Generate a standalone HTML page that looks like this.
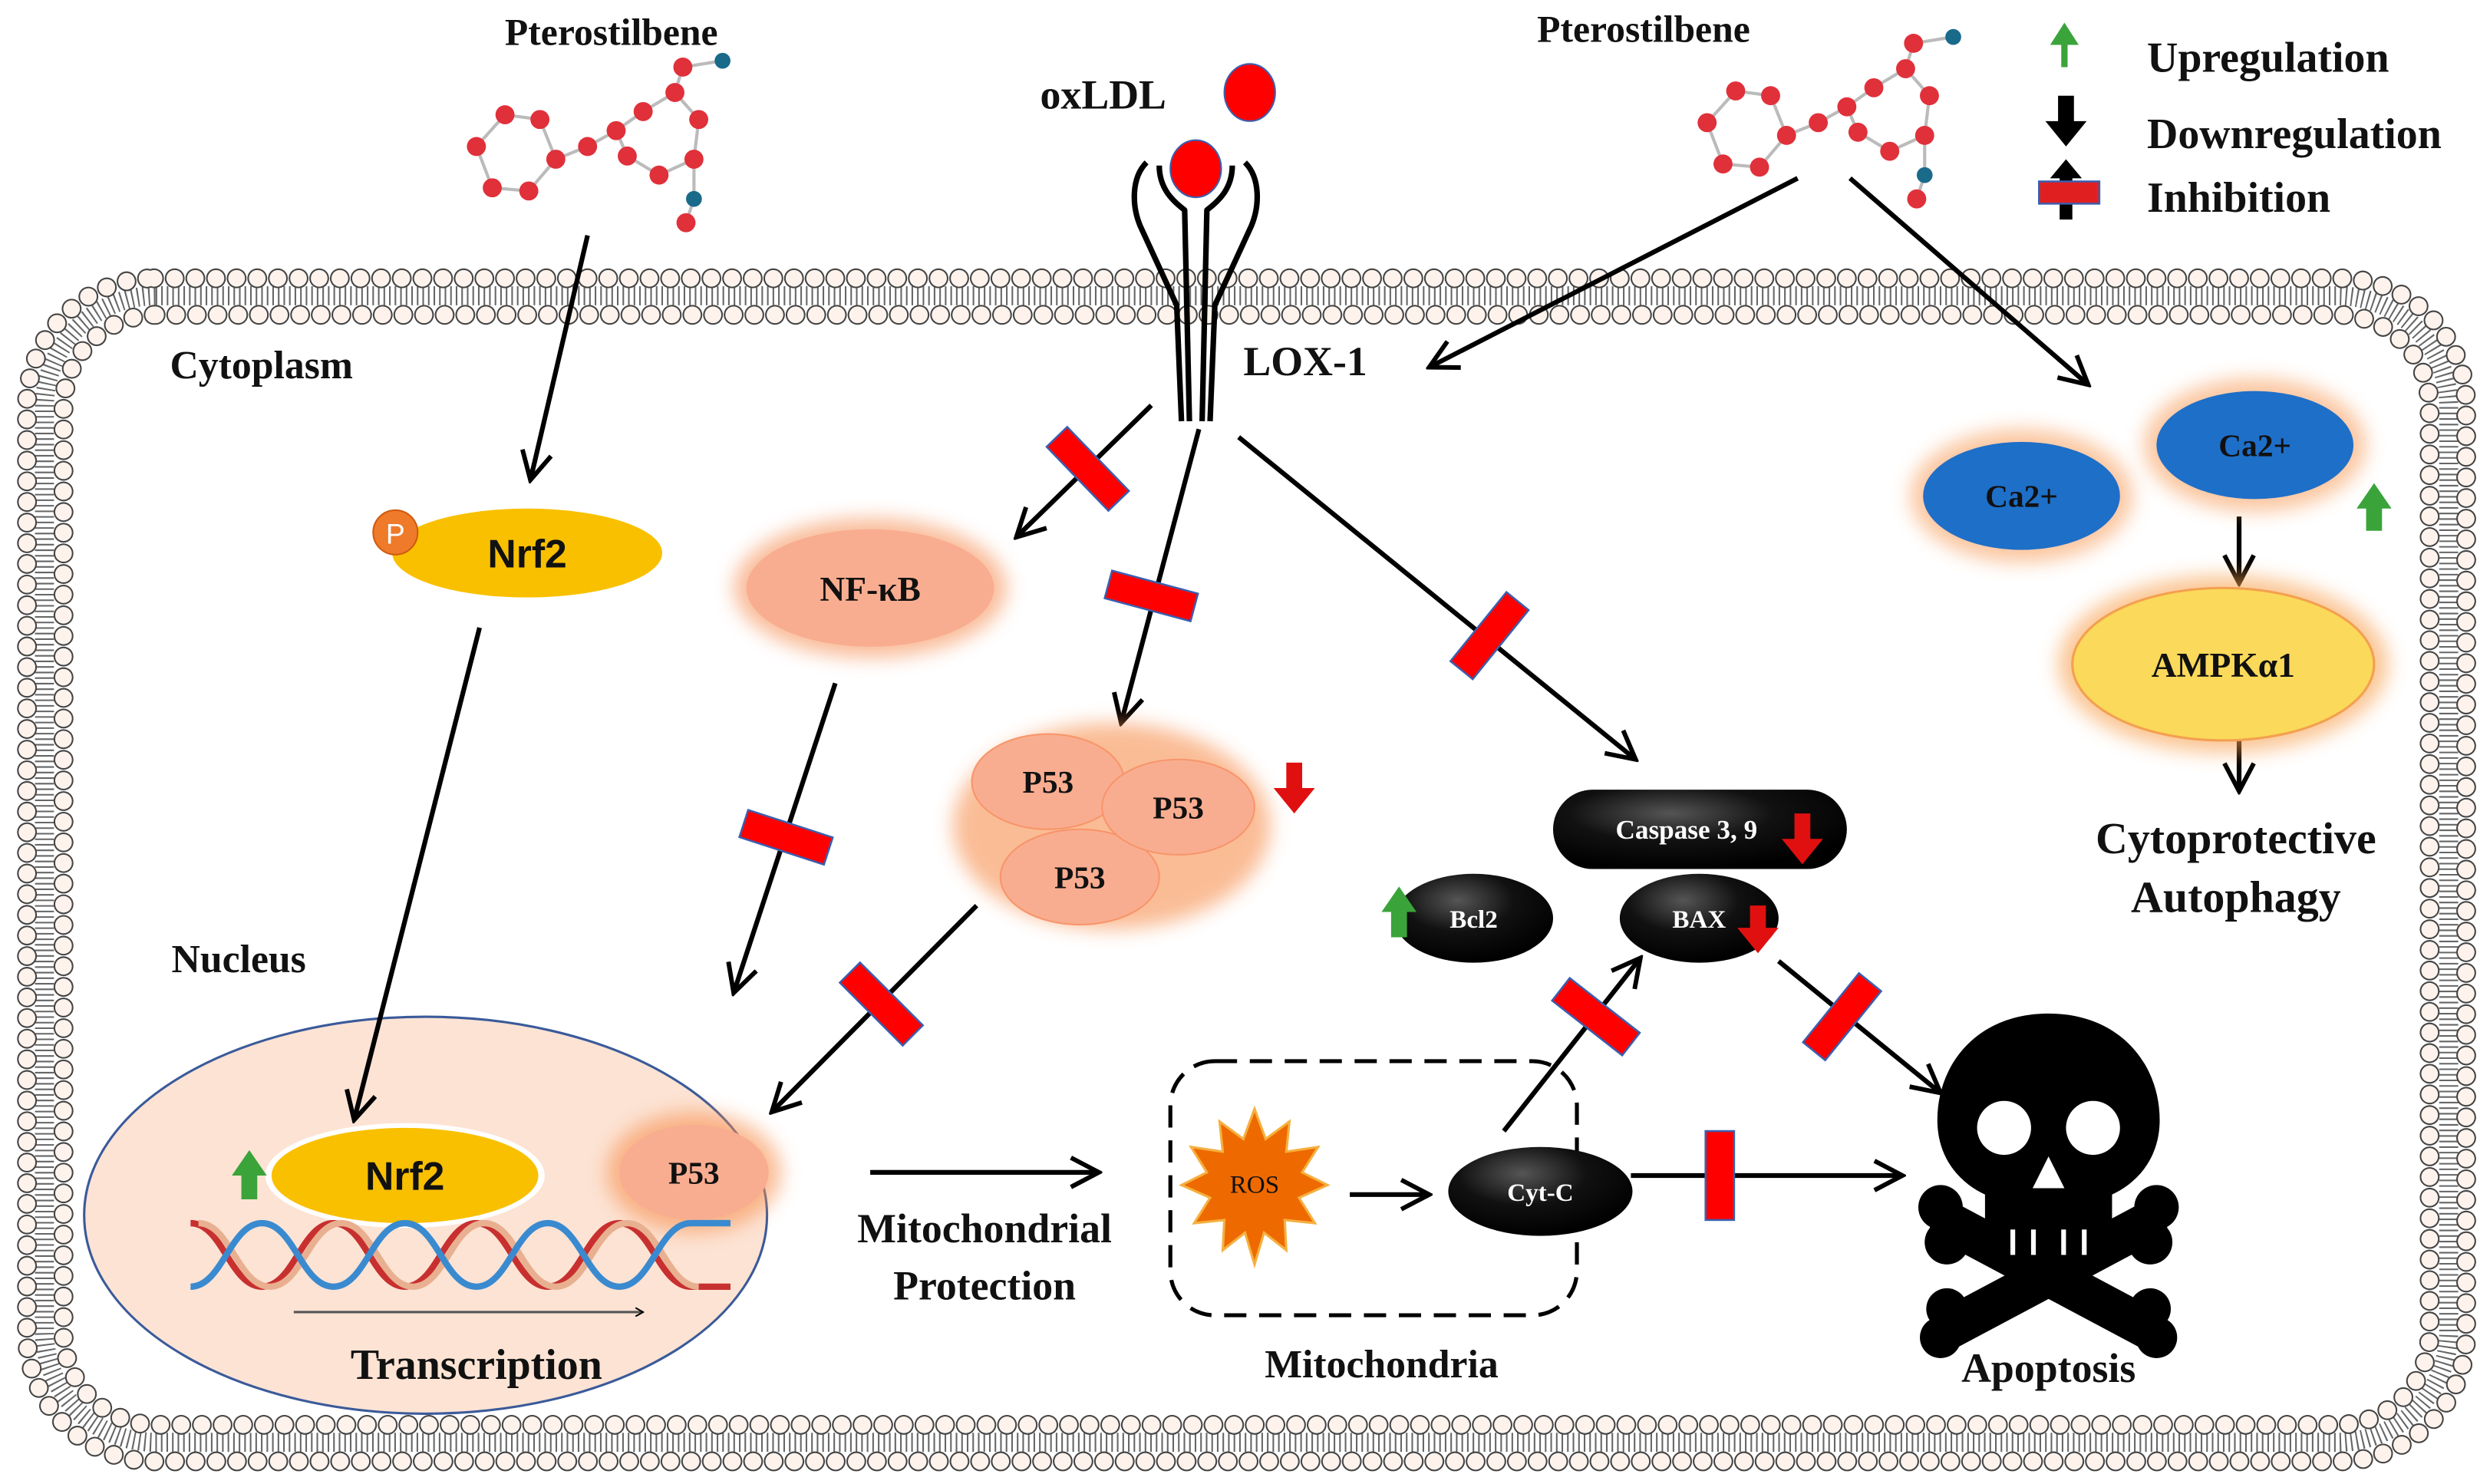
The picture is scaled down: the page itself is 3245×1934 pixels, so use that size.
<!DOCTYPE html>
<html><head><meta charset="utf-8"><style>
html,body{margin:0;padding:0;background:#fff;}
svg{display:block;}
text{font-family:"Liberation Serif",serif;font-weight:bold;fill:#111;}
.sans{font-family:"Liberation Sans",sans-serif;}
</style></head><body>
<svg width="3245" height="1934" viewBox="0 0 1568 934" xmlns="http://www.w3.org/2000/svg">
<defs>
<marker id="ah" viewBox="0 0 10 10" refX="9" refY="5" markerWidth="6" markerHeight="6" orient="auto" markerUnits="userSpaceOnUse">
<path d="M1,0.5 L9,5 L1,9.5" fill="none" stroke="#000" stroke-width="1.6"/>
</marker>
<marker id="ahb" viewBox="0 0 10 10" refX="9" refY="5" markerWidth="22" markerHeight="22" orient="auto" markerUnits="userSpaceOnUse">
<path d="M1,0.8 L9,5 L1,9.2" fill="none" stroke="#000" stroke-width="1.3"/>
</marker>
<filter id="glow" x="-30%" y="-30%" width="160%" height="160%"><feGaussianBlur stdDeviation="6"/></filter>
<radialGradient id="blk" cx="40%" cy="30%" r="70%"><stop offset="0" stop-color="#555"/><stop offset="0.5" stop-color="#111"/><stop offset="1" stop-color="#000"/></radialGradient>
<g id="inh"><rect x="-9" y="-28" width="18" height="56" fill="#f00" stroke="#3a5fb0" stroke-width="1.2"/></g>
<g id="mol">
<g stroke="#bbb" stroke-width="2" fill="none">
<path d="M300,92 L318,72 L340,75 L350,100 L333,120 L310,118 Z M350,100 L370,92 L388,82 L405,70 L425,58 L440,75 L437,100 L415,110 L395,98 L388,82 M425,58 L430,42 L455,38 M437,100 L437,125 L432,140"/>
</g>
<g fill="#e0303a">
<circle cx="300" cy="92" r="6"/><circle cx="318" cy="72" r="6"/><circle cx="340" cy="75" r="6"/><circle cx="350" cy="100" r="6"/><circle cx="333" cy="120" r="6"/><circle cx="310" cy="118" r="6"/>
<circle cx="370" cy="92" r="6"/><circle cx="388" cy="82" r="6"/><circle cx="405" cy="70" r="6"/><circle cx="425" cy="58" r="6"/><circle cx="440" cy="75" r="6"/><circle cx="437" cy="100" r="6"/><circle cx="415" cy="110" r="6"/><circle cx="395" cy="98" r="6"/>
<circle cx="430" cy="42" r="6"/><circle cx="432" cy="140" r="6"/>
</g>
<circle cx="455" cy="38" r="5" fill="#1a6a8a"/><circle cx="437" cy="125" r="5" fill="#1a6a8a"/>
</g>
</defs>

<!-- membrane -->
<g fill="none">
<rect x="28" y="186" width="1514" height="722" rx="70" stroke="#666" stroke-width="12" stroke-dasharray="1 2.5"/>
<rect x="17" y="175" width="1536" height="745" rx="80" stroke="#444" stroke-width="12.5" stroke-dasharray="0 13" stroke-linecap="round"/>
<rect x="17" y="175" width="1536" height="745" rx="80" stroke="#fdf3ec" stroke-width="10.5" stroke-dasharray="0 13" stroke-linecap="round"/>
<rect x="40" y="198" width="1490" height="699" rx="58" stroke="#444" stroke-width="12.5" stroke-dasharray="0 13" stroke-linecap="round"/>
<rect x="40" y="198" width="1490" height="699" rx="58" stroke="#fdf3ec" stroke-width="10.5" stroke-dasharray="0 13" stroke-linecap="round"/>
</g>

<!-- top labels -->
<text x="385" y="28" font-size="24" text-anchor="middle">Pterostilbene</text>
<text x="1035" y="26" font-size="24" text-anchor="middle">Pterostilbene</text>
<use href="#mol"/>
<use href="#mol" transform="translate(775,-15)"/>

<!-- legend -->
<path d="M1298,42 L1298,28 L1291,28 L1300,14 L1309,28 L1302,28 L1302,42 Z" fill="#3aa43a"/>
<path d="M1296,60 L1306,60 L1306,76 L1314,76 L1301,92 L1288,76 L1296,76 Z" fill="#000"/>
<path d="M1297,138 L1297,112 L1291,112 L1301,100 L1311,112 L1305,112 L1305,138 Z" fill="#000"/>
<rect x="1284" y="114" width="38" height="14" fill="#e02020" stroke="#3a5fb0" stroke-width="1.2"/>
<text x="1352" y="45" font-size="27">Upregulation</text>
<text x="1352" y="93" font-size="27">Downregulation</text>
<text x="1352" y="133" font-size="27">Inhibition</text>

<!-- oxLDL & receptor -->
<text x="655" y="68" font-size="26">oxLDL</text>
<ellipse cx="787" cy="58" rx="16" ry="18" fill="#f00" stroke="#3a5fb0" stroke-width="1"/>
<g fill="none" stroke="#000" stroke-width="3.5" stroke-linejoin="round">
<path d="M722,102 C712,112 713,130 718,142 L741,192 L744,265 M730,104 C730,118 738,126 746,132 L749,265"/>
<path d="M784,102 C794,112 793,130 788,142 L765,192 L762,265 M776,104 C776,118 768,126 760,132 L757,265"/>
</g>
<ellipse cx="753" cy="106" rx="16" ry="18" fill="#f00" stroke="#3a5fb0" stroke-width="1"/>
<text x="783" y="236" font-size="26">LOX-1</text>
<text x="107" y="238" font-size="25">Cytoplasm</text>

<!-- Nucleus (drawn before arrows) -->
<text x="108" y="612" font-size="25">Nucleus</text>
<ellipse cx="268" cy="765" rx="215" ry="125" fill="#fce3d4" stroke="#3a5a9a" stroke-width="1.5"/>
<ellipse cx="255" cy="740" rx="88" ry="33" fill="#fff"/>
<ellipse cx="255" cy="740" rx="84" ry="30" fill="#f9c000"/>
<text x="255" y="749" font-size="25" text-anchor="middle" class="sans">Nrf2</text>
<path d="M152,755 L152,740 L146,740 L157,724 L168,740 L162,740 L162,755 Z" fill="#3aa43a"/>
<ellipse cx="437" cy="738" rx="55" ry="38" fill="#f79050" opacity="0.6" filter="url(#glow)"/>
<ellipse cx="437" cy="738" rx="47" ry="30" fill="#f9ad90"/>
<text x="437" y="745" font-size="20" text-anchor="middle">P53</text>
<g fill="none" stroke-width="4">
<path d="M120,770 C140,770 145,810 165,810 C185,810 190,770 210,770 C230,770 235,810 255,810 C275,810 280,770 300,770 C320,770 325,810 345,810 C365,810 370,770 390,770 C410,770 415,810 435,810 L460,810" stroke="#c83030"/>
<path d="M125,770 C145,770 150,810 170,810 C190,810 195,770 215,770 C235,770 240,810 260,810 C280,810 285,770 305,770 C325,770 330,810 350,810 C370,810 375,770 395,770 C415,770 420,810 440,810" stroke="#e8b090"/>
<path d="M120,810 C140,810 145,770 165,770 C185,770 190,810 210,810 C230,810 235,770 255,770 C275,770 280,810 300,810 C320,810 325,770 345,770 C365,770 370,810 390,810 C410,810 415,770 435,770 L460,770" stroke="#3a8ad0"/>
</g>
<line x1="185" y1="826" x2="405" y2="826" stroke="#555" stroke-width="1.5" marker-end="url(#ah)"/>
<text x="300" y="868" font-size="27" text-anchor="middle">Transcription</text>

<!-- arrows -->
<g stroke="#000" stroke-width="3" fill="none" marker-end="url(#ahb)">
<line x1="370" y1="148" x2="334" y2="302"/>
<line x1="1132" y1="112" x2="900" y2="231"/>
<line x1="1165" y1="112" x2="1315" y2="242"/>
<line x1="725" y1="255" x2="640" y2="338"/>
<line x1="755" y1="270" x2="706" y2="455"/>
<line x1="780" y1="275" x2="1030" y2="478"/>
<line x1="302" y1="395" x2="223" y2="705"/>
<line x1="526" y1="430" x2="462" y2="625"/>
<line x1="615" y1="570" x2="486" y2="700"/>
<line x1="1410" y1="325" x2="1410" y2="367"/>
<line x1="1410" y1="465" x2="1410" y2="498"/>
<line x1="548" y1="738" x2="692" y2="738"/>
<line x1="850" y1="752" x2="900" y2="752"/>
<line x1="1027" y1="740" x2="1198" y2="740"/>
<line x1="947" y1="712" x2="1033" y2="603"/>
<line x1="1120" y1="605" x2="1222" y2="688"/>
</g>

<!-- inhibitors -->
<use href="#inh" transform="translate(685,295) rotate(136)"/>
<use href="#inh" transform="translate(725,375) rotate(105)"/>
<use href="#inh" transform="translate(938,400) rotate(39)"/>
<use href="#inh" transform="translate(495,527) rotate(108)"/>
<use href="#inh" transform="translate(555,632) rotate(135)"/>
<use href="#inh" transform="translate(1005,640) rotate(-52)"/>
<use href="#inh" transform="translate(1160,640) rotate(39)"/>
<use href="#inh" transform="translate(1083,740) rotate(0)"/>

<!-- Nrf2 cytoplasm -->
<ellipse cx="332" cy="348" rx="85" ry="28" fill="#f9c000"/>
<circle cx="249" cy="335" r="14" fill="#ee7a2a" stroke="#d05a10" stroke-width="1"/>
<text x="249" y="342" font-size="18" text-anchor="middle" class="sans" style="fill:#fff;font-weight:normal">P</text>
<text x="332" y="357" font-size="25" text-anchor="middle" class="sans">Nrf2</text>

<!-- NF-kB -->
<ellipse cx="548" cy="370" rx="86" ry="44" fill="#f7a070" opacity="0.7" filter="url(#glow)"/>
<ellipse cx="548" cy="370" rx="78" ry="37" fill="#f9ad90"/>
<text x="548" y="378" font-size="22" text-anchor="middle">NF-κB</text>

<!-- P53 cluster -->
<ellipse cx="700" cy="520" rx="100" ry="65" fill="#f79050" opacity="0.6" filter="url(#glow)"/>
<ellipse cx="660" cy="492" rx="48" ry="30" fill="#f9ad90" stroke="#f7956a"/>
<ellipse cx="680" cy="552" rx="50" ry="30" fill="#f9ad90" stroke="#f7956a"/>
<ellipse cx="742" cy="508" rx="48" ry="30" fill="#f9ad90" stroke="#f7956a"/>
<text x="660" y="499" font-size="20" text-anchor="middle">P53</text>
<text x="742" y="515" font-size="20" text-anchor="middle">P53</text>
<text x="680" y="559" font-size="20" text-anchor="middle">P53</text>
<path d="M810,480 L820,480 L820,496 L828,496 L815,512 L802,496 L810,496 Z" fill="#e01010"/>

<!-- Ca / AMPK -->
<ellipse cx="1273" cy="312" rx="70" ry="42" fill="#f8a060" opacity="0.6" filter="url(#glow)"/>
<ellipse cx="1420" cy="280" rx="70" ry="42" fill="#f8a060" opacity="0.6" filter="url(#glow)"/>
<ellipse cx="1273" cy="312" rx="62" ry="34" fill="#1e6fc8"/>
<ellipse cx="1420" cy="280" rx="62" ry="34" fill="#1e6fc8"/>
<text x="1273" y="319" font-size="20" text-anchor="middle">Ca2+</text>
<text x="1420" y="287" font-size="20" text-anchor="middle">Ca2+</text>
<path d="M1490,334 L1490,320 L1484,320 L1495,304 L1506,320 L1500,320 L1500,334 Z" fill="#3aa43a"/>
<ellipse cx="1400" cy="418" rx="104" ry="56" fill="#f8a050" opacity="0.6" filter="url(#glow)"/>
<ellipse cx="1400" cy="418" rx="95" ry="48" fill="#fbd95a" stroke="#f3a050" stroke-width="1.5"/>
<text x="1400" y="426" font-size="22" text-anchor="middle">AMPKα1</text>
<text x="1408" y="537" font-size="28" text-anchor="middle">Cytoprotective</text>
<text x="1408" y="574" font-size="28" text-anchor="middle">Autophagy</text>

<!-- Caspase / Bcl2 / BAX -->
<rect x="978" y="497" width="185" height="50" rx="25" fill="url(#blk)"/>
<text x="1062" y="528" font-size="17" text-anchor="middle" style="fill:#fff">Caspase 3, 9</text>
<path d="M1130,512 L1140,512 L1140,528 L1148,528 L1135,544 L1122,528 L1130,528 Z" fill="#e01010"/>
<ellipse cx="928" cy="578" rx="50" ry="28" fill="url(#blk)"/>
<text x="928" y="584" font-size="16" text-anchor="middle" style="fill:#fff">Bcl2</text>
<path d="M876,590 L876,574 L870,574 L881,558 L892,574 L886,574 L886,590 Z" fill="#3aa43a"/>
<ellipse cx="1070" cy="578" rx="50" ry="28" fill="url(#blk)"/>
<text x="1070" y="584" font-size="16" text-anchor="middle" style="fill:#fff">BAX</text>
<path d="M1102,570 L1112,570 L1112,584 L1120,584 L1107,600 L1094,584 L1102,584 Z" fill="#e01010"/>

<!-- Mito -->
<text x="620" y="782" font-size="26" text-anchor="middle">Mitochondrial</text>
<text x="620" y="818" font-size="26" text-anchor="middle">Protection</text>
<rect x="737" y="668" width="256" height="160" rx="28" fill="none" stroke="#000" stroke-width="2.5" stroke-dasharray="14 8"/>
<text x="870" y="867" font-size="25" text-anchor="middle">Mitochondria</text>
<path d="M790,698 L797,717 L812,706 L810,725 L830,722 L820,738 L836,746 L818,754 L828,770 L809,768 L810,787 L796,776 L790,796 L784,776 L770,787 L771,768 L752,770 L762,754 L744,746 L760,738 L750,722 L770,725 L768,706 L783,717 Z" fill="#ee6a00" stroke="#f5b040" stroke-width="1.5"/>
<text x="790" y="751" font-size="16" text-anchor="middle" style="font-weight:normal">ROS</text>
<ellipse cx="970" cy="750" rx="58" ry="28" fill="url(#blk)"/>
<text x="970" y="756" font-size="16" text-anchor="middle" style="fill:#fff">Cyt-C</text>

<!-- Skull -->
<g fill="#000">
<path d="M1290,638 C1335,638 1360,670 1360,705 C1360,730 1345,745 1330,752 L1330,790 L1250,790 L1250,752 C1235,745 1220,730 1220,705 C1220,670 1245,638 1290,638 Z"/>
<g stroke="#000" stroke-width="26" stroke-linecap="round">
<line x1="1228" y1="770" x2="1352" y2="836"/>
<line x1="1352" y1="770" x2="1228" y2="836"/>
</g>
<circle cx="1222" cy="760" r="14"/><circle cx="1226" cy="782" r="14"/>
<circle cx="1358" cy="760" r="14"/><circle cx="1354" cy="782" r="14"/>
<circle cx="1222" cy="842" r="13"/><circle cx="1226" cy="824" r="13"/>
<circle cx="1358" cy="842" r="13"/><circle cx="1354" cy="824" r="13"/>
</g>
<g fill="#fff">
<circle cx="1262" cy="710" r="17"/><circle cx="1318" cy="710" r="17"/>
<path d="M1290,728 L1300,748 L1280,748 Z"/>
<rect x="1266" y="774" width="3" height="16"/><rect x="1279" y="774" width="3" height="16"/><rect x="1298" y="774" width="3" height="16"/><rect x="1311" y="774" width="3" height="16"/>
</g>
<text x="1290" y="870" font-size="26" text-anchor="middle">Apoptosis</text>
</svg>
</body></html>
